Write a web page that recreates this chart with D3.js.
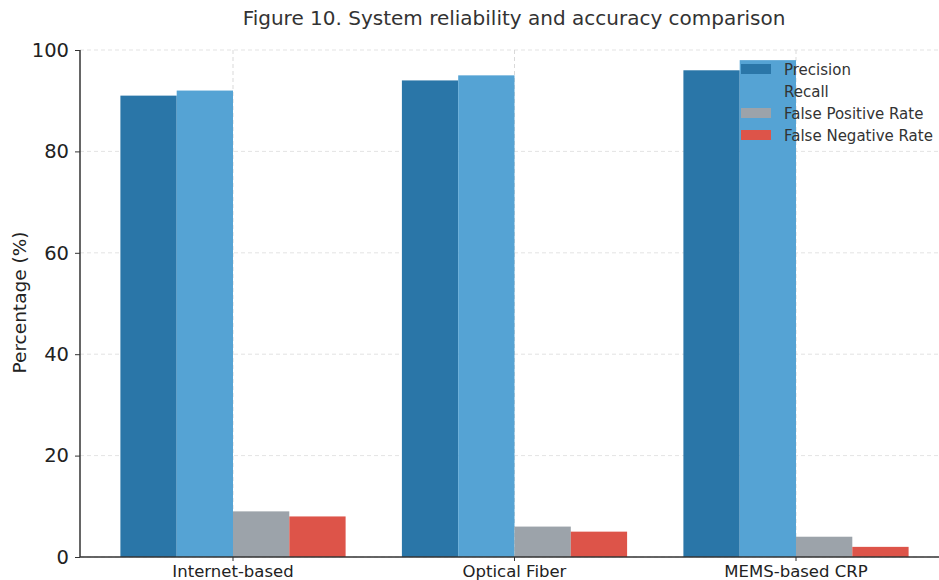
<!DOCTYPE html>
<html><head><meta charset="utf-8">
<script src="https://cdn.jsdelivr.net/npm/d3@7"></script>
<style>body{margin:0;background:#fff;font-family:"DejaVu Sans",sans-serif;}</style>
</head><body><svg id="c" width="939" height="580"></svg>
<script>
const categories = ["Internet-based", "Optical Fiber", "MEMS-based CRP"];
const seriesNames = ["Precision", "Recall", "False Positive Rate", "False Negative Rate"];
const precision = [91, 94, 96];
const recall = [92, 95, 98];
const falsePositive = [9, 6, 4];
const falseNegative = [8, 5, 2];
const yTicks = [0, 20, 40, 60, 80, 100];
const colors = ["#2a76a8", "#55a3d4", "#9ca3aa", "#dd5449"];

(function () {
const seriesValues = [precision, recall, falsePositive, falseNegative];
const svg = d3.select("#c");
const pLeft = 80, pTop = 50, pBottom = 557, pRight = 939;

const y = d3.scaleLinear().domain([0, 100]).range([pBottom, pTop]);
const x0 = d3.scaleBand().domain(categories).range([92.25, 936.75]).padding(0);
const x1 = d3.scaleBand().domain(seriesNames)
  .range([x0.bandwidth() * 0.1, x0.bandwidth() * 0.9]).padding(0);

// grid
const grid = svg.append("g");
grid.selectAll(".hg").data(yTicks).join("line")
  .attr("x1", pLeft).attr("x2", pRight)
  .attr("y1", d => y(d)).attr("y2", d => y(d))
  .attr("stroke", "#dcdcdc").attr("stroke-dasharray", "4,3").attr("stroke-width", 0.8);
grid.selectAll(".vg").data(categories).join("line")
  .attr("x1", d => x0(d) + x0.bandwidth() / 2).attr("x2", d => x0(d) + x0.bandwidth() / 2)
  .attr("y1", pTop).attr("y2", pBottom)
  .attr("stroke", "#cfcfcf").attr("stroke-dasharray", "4,3").attr("stroke-width", 0.8);

// bars
const groups = svg.append("g").selectAll("g").data(categories).join("g")
  .attr("transform", d => `translate(${x0(d)},0)`);
groups.selectAll("rect").data((c, i) => seriesNames.map((s, k) => ({s, k, v: seriesValues[k][i]})))
  .join("rect")
  .attr("x", d => x1(d.s)).attr("width", x1.bandwidth())
  .attr("y", d => y(d.v)).attr("height", d => y(0) - y(d.v))
  .attr("fill", d => colors[d.k]);

// axes
const yAxis = svg.append("g").attr("transform", `translate(${pLeft},0)`)
  .call(d3.axisLeft(y).tickValues(yTicks).tickSize(5).tickPadding(6));
yAxis.select(".domain").attr("stroke", "#333").attr("stroke-width", 1.5).attr("d", `M0,${pBottom}V${pTop}`);
yAxis.selectAll(".tick line").attr("stroke", "#333");
yAxis.selectAll("text").attr("font-size", 19.5).attr("fill", "#222").attr("font-family", "DejaVu Sans");

const xAxis = svg.append("g").attr("transform", `translate(0,${pBottom})`)
  .call(d3.axisBottom(x0).tickSize(4).tickPadding(4));
xAxis.select(".domain").attr("stroke", "#333").attr("stroke-width", 1.5).attr("d", `M${pLeft},0H${pRight}`);
xAxis.selectAll(".tick line").attr("stroke", "#333");
xAxis.selectAll("text").attr("font-size", 16.5).attr("fill", "#222").attr("font-family", "DejaVu Sans");

// labels
svg.append("text").attr("x", 514).attr("y", 25).attr("text-anchor", "middle")
  .attr("font-size", 20).attr("fill", "#333").text("Figure 10. System reliability and accuracy comparison");
svg.append("text").attr("transform", `translate(26,${(pTop + pBottom) / 2 - 1}) rotate(-90)`)
  .attr("text-anchor", "middle").attr("font-size", 18.5).attr("fill", "#222").text("Percentage (%)");

// legend
const lg = svg.append("g").attr("transform", "translate(741,64)");
const items = lg.selectAll("g").data(seriesNames).join("g")
  .attr("transform", (d, i) => `translate(0,${i * 22})`);
items.append("rect").attr("width", 30).attr("height", 10).attr("fill", (d, i) => colors[i]);
items.append("text").attr("x", 43).attr("y", 10.5).attr("font-size", 15).attr("fill", "#333").text(d => d);
})();
</script></body></html>
